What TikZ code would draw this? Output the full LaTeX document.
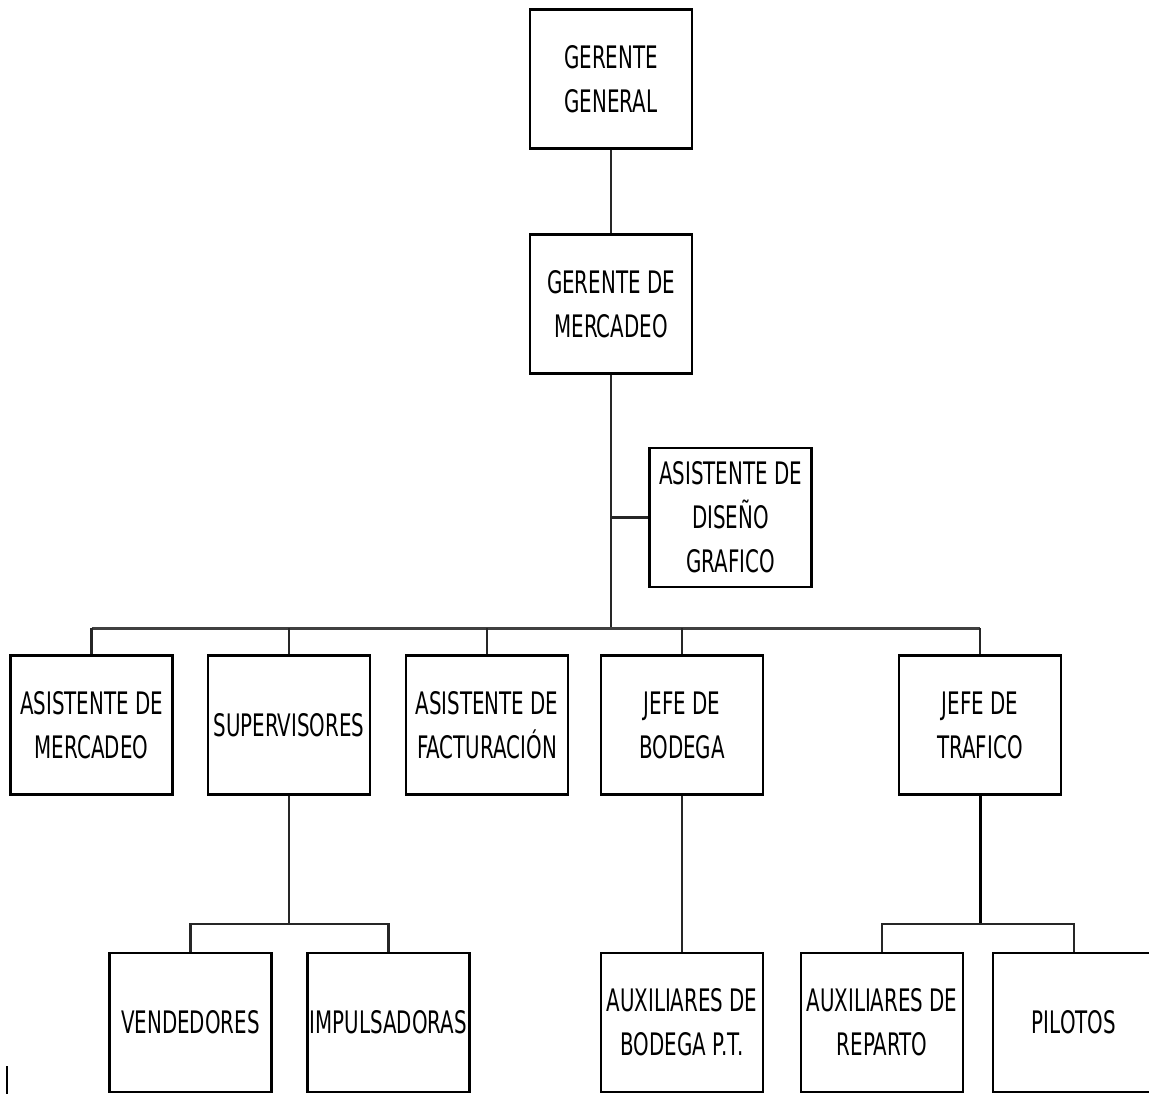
\documentclass[tikz,border=0pt]{standalone}
\usepackage{fontspec}
\setmainfont[FakeStretch=0.64]{DejaVu Sans}
\begin{document}
\begin{tikzpicture}[x=1bp,y=-1bp,
  box/.style={draw=black,line width=2.4bp,minimum width=162bp,minimum height=139bp,inner sep=0pt,align=center,
    font=\fontsize{31bp}{44bp}\selectfont},
  conn/.style={draw=black!85,line width=2.4bp},
  busline/.style={draw=black!75,line width=3bp}]
\useasboundingbox (0,0) rectangle (1149,1094);
% top
\node[box] (gg) at (611,79) {GERENTE\\GENERAL};
\node[box] (gm) at (611,304) {GERENTE  DE\\MERCADEO};
\node[box] (adg) at (730.5,517.5) {ASISTENTE DE\\DISEÑO\\GRAFICO};
% second row
\node[box] (am) at (91.5,725) {ASISTENTE DE\\MERCADEO};
\node[box] (sup) at (289,725) {SUPERVISORES};
\node[box] (af) at (487,725) {ASISTENTE DE\\FACTURACIÓN};
\node[box] (jb) at (682,725) {JEFE DE\\BODEGA};
\node[box] (jt) at (980,725) {JEFE DE\\TRAFICO};
% third row
\node[box] (ven) at (190.5,1022.5) {VENDEDORES};
\node[box] (imp) at (388.5,1022.5) {IMPULSADORAS};
\node[box] (abp) at (682,1022.5) {AUXILIARES DE\\BODEGA  P.T.};
\node[box] (ar) at (882,1022.5) {AUXILIARES DE\\REPARTO};
\node[box] (pil) at (1074,1022.5) {PILOTOS};
% connectors
\coordinate (bus) at (611,628);
\coordinate (sb) at (289,924);
\coordinate (tb) at (980,924);
\draw[conn] (gg.south) -- (gm.north);
\draw[conn] (gm.south) -- (bus);
\draw[conn] (adg.west) -- (adg.west -| gm.south);
\draw[busline] (am.north |- bus) -- (jt.north |- bus);
\foreach \n in {am,sup,af,jb,jt}{\draw[conn] (\n.north) -- (\n.north |- bus);}
\draw[conn] (sup.south) -- (sb);
\draw[conn] (ven.north) |- (sb);
\draw[conn] (imp.north) |- (sb);
\draw[conn] (jb.south) -- (abp.north);
\draw[conn,line width=3bp,draw=black] (jt.south) -- (tb);
\draw[conn] (ar.north) |- (tb);
\draw[conn] (pil.north) |- (tb);
% stray cursor mark
\coordinate (c1) at (7,1066);
\coordinate (c2) at (7,1094);
\draw[line width=2.4bp] (c1) -- (c2);
\end{tikzpicture}
\end{document}
